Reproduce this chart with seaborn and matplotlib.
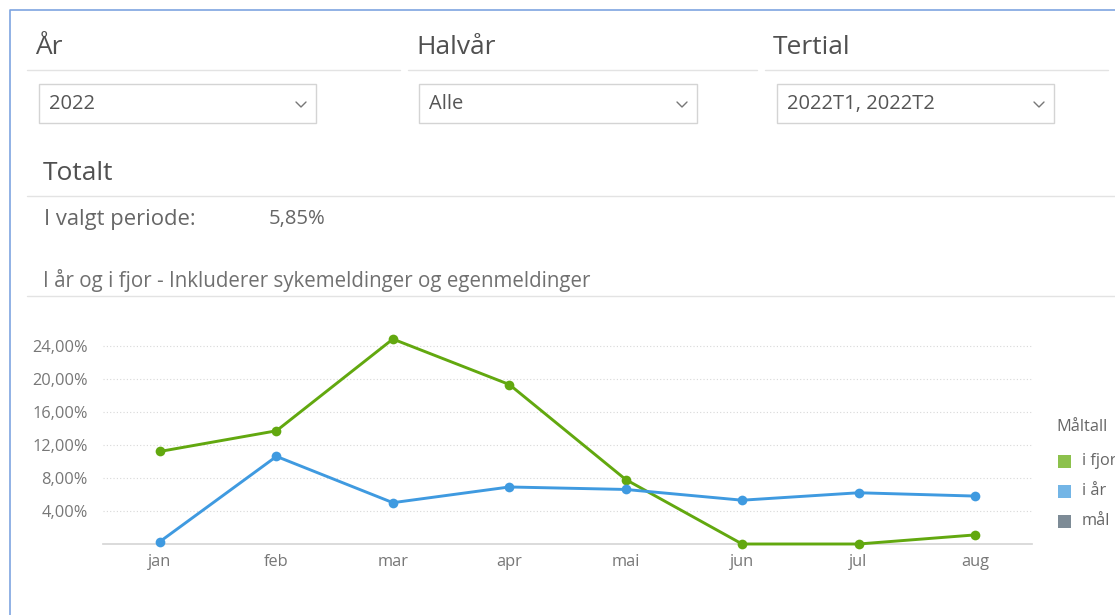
import pandas as pd
import seaborn as sns
import matplotlib.pyplot as plt
from matplotlib.lines import Line2D
from matplotlib.patches import Rectangle
from matplotlib.ticker import FuncFormatter

# chart data
months = ['jan', 'feb', 'mar', 'apr', 'mai', 'jun', 'jul', 'aug']
i_fjor = [11.2, 13.7, 24.8, 19.3, 7.8, 0.0, 0.0, 1.1]
i_aar = [0.3, 10.6, 5.0, 6.9, 6.6, 5.3, 6.2, 5.8]
y_ticks = [4, 8, 12, 16, 20, 24]

legend_labels = ['i fjor', 'i år', 'mål']
legend_colors = ['#8cc14c', '#73b5e6', '#7d8b96']
line_colors = {'i fjor': '#62a80f', 'i år': '#3f9ae0'}

df = pd.DataFrame({
    'month': months * 2,
    'pos': list(range(len(months))) * 2,
    'value': i_fjor + i_aar,
    'serie': ['i fjor'] * len(months) + ['i år'] * len(months),
})

W, H = 1115, 615
sns.set_theme(style='white')
plt.rcParams['font.family'] = ['Open Sans', 'DejaVu Sans']

fig = plt.figure(figsize=(W / 100, H / 100), dpi=100)


def fx(x):
    return x / W


def fy(y):
    return 1 - y / H


def hline(x0, x1, y, color='#e3e3e3', lw=1.0):
    fig.add_artist(Line2D([fx(x0), fx(x1)], [fy(y), fy(y)], color=color, lw=lw))


# panel border (left and top)
fig.add_artist(Line2D([fx(10), fx(10), fx(W)], [fy(H), fy(10), fy(10)], color='#7ea4e0', lw=1.2))

# filter headers and dropdowns
headers = [('År', 35, 400, '2022', 39, 316),
           ('Halvår', 416, 757, 'Alle', 419, 697),
           ('Tertial', 773, 1108, '2022T1, 2022T2', 777, 1054)]
for title, hx, hx1, val, bx0, bx1 in headers:
    fig.text(fx(hx), fy(47), title, fontsize=19, color='#505050', va='center', ha='left')
    hline(hx - 8, hx1, 70)
    fig.add_artist(Rectangle((fx(bx0), fy(123)), fx(bx1 - bx0), 39 / H,
                             facecolor='white', edgecolor='#d4d4d4', lw=1))
    fig.text(fx(bx0 + 10), fy(104), val, fontsize=14.5, color='#555555', va='center', ha='left')
    cx = bx1 - 15
    fig.add_artist(Line2D([fx(cx - 5), fx(cx), fx(cx + 5)], [fy(102), fy(107), fy(102)],
                          color='#777777', lw=1))

fig.text(fx(43), fy(174), 'Totalt', fontsize=19, color='#505050', va='center', ha='left')
hline(27, W, 196)
fig.text(fx(44), fy(219), 'I valgt periode:', fontsize=15.8, color='#666666', va='center', ha='left')
fig.text(fx(269), fy(219), '5,85%', fontsize=14.6, color='#666666', va='center', ha='left')
fig.text(fx(43), fy(281), 'I år og i fjor - Inkluderer sykemeldinger og egenmeldinger',
         fontsize=14.8, color='#707070', va='center', ha='left')
hline(27, W, 296)

# line chart
ax = fig.add_axes([fx(103), 71 / H, (1032 - 103) / W, (544 - 325) / H])
sns.lineplot(data=df, x='pos', y='value', hue='serie', palette=line_colors,
             marker='o', markersize=7, markeredgewidth=0, linewidth=2.1,
             legend=False, ax=ax)
for line in ax.lines:
    line.set_clip_on(False)
    line.set_zorder(3)

ax.set_xlim(-0.49, len(months) - 0.51)
ax.set_ylim(0, 26.5)
ax.set_xticks(range(len(months)))
ax.set_xticklabels(months)
ax.set_yticks(y_ticks)
ax.yaxis.set_major_formatter(FuncFormatter(lambda v, p: f'{v:.2f}%'.replace('.', ',')))
ax.tick_params(axis='both', length=0, labelsize=11.8, colors='#777777')
ax.tick_params(axis='x', pad=7)
ax.tick_params(axis='y', pad=11)
ax.set_xlabel('')
ax.set_ylabel('')
ax.grid(axis='y', color='#d8d8d8', linestyle=(0, (1, 2)), lw=0.8)
for side in ['top', 'right', 'left']:
    ax.spines[side].set_visible(False)
ax.spines['bottom'].set_color('#d6d6d6')
ax.spines['bottom'].set_zorder(1)
ax.set_facecolor('none')

# legend, drawn as squares and labels to sit where the dashboard puts it
fig.text(fx(1056), fy(427), 'Måltall', fontsize=11.8, color='#666666', va='center', ha='left')
for i, (lab, col) in enumerate(zip(legend_labels, legend_colors)):
    yc = 461 + i * 30
    fig.add_artist(Rectangle((fx(1058), fy(yc + 6.5)), 13 / W, 13 / H,
                             facecolor=col, edgecolor='none'))
    fig.text(fx(1082), fy(yc), lab, fontsize=11.8, color='#666666', va='center', ha='left')

fig.savefig('out.png', dpi=100)
